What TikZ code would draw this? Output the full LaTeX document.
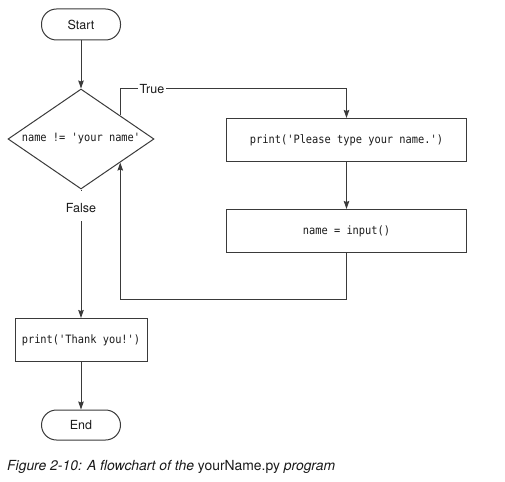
\documentclass[tikz,border=0pt]{standalone}
\usepackage{fontspec}
\setmainfont{TeX Gyre Heros}
\newfontfamily\codefont{DejaVu Sans Mono}[FakeStretch=0.9]
\usetikzlibrary{shapes.geometric,arrows.meta,calc}
\definecolor{ln}{HTML}{3A3A3A}
\definecolor{tx}{HTML}{1A1A1A}
\tikzset{
  term/.style={draw=ln, line width=1pt, rounded corners=15pt, minimum width=79pt, minimum height=31pt, inner sep=0pt, font=\fontsize{12.5}{14}\selectfont, text=tx},
  procbox/.style={draw=ln, line width=1pt, inner sep=0pt, font=\codefont\fontsize{11.5}{13}\selectfont, text=tx},
  decbox/.style={draw=ln, line width=1pt, diamond, minimum width=146pt, minimum height=100pt, inner sep=0pt},
  codetext/.style={font=\codefont\fontsize{11.5}{13}\selectfont, text=tx, inner sep=0pt},
  lbl/.style={fill=white, font=\fontsize{12.5}{14}\selectfont, text=tx},
  arr/.style={draw=ln, line width=1pt, -{Stealth[length=8pt,width=5.5pt,inset=1pt]}},
}
\begin{document}
\begin{tikzpicture}[x=1pt,y=-1pt]
\useasboundingbox (0,0) rectangle (505,481);
\node[term] (start) at (81,24.5) {Start};
\node[decbox] (dec) at (81,139) {};
\node[codetext] (dect) at (81,139) {name != 'your name'};
\node[procbox, minimum width=240pt, minimum height=43pt] (b1) at (346.5,140) {print('Please type your name.')};
\node[procbox, minimum width=240pt, minimum height=43pt] (b2) at (346.5,231) {name = input()};
\node[procbox, minimum width=132pt, minimum height=43pt] (b3) at (81,340) {print('Thank you!')};
\node[term, minimum height=30pt] (end) at (81,425) {End};

\coordinate (tp) at ($(dec.east)!0.466!(dec.north)$);
\coordinate (bp) at ($(dec.east)!0.466!(dec.south)$);
\coordinate (tc) at (tp |- 0,89);
\coordinate (lc) at ($(b2.south)+(0,46)$);

\draw[arr] (start) -- (dec.north);
\draw[arr] (tp) -- (tc) -| (b1.north);
\node[lbl, inner xsep=2pt, inner ysep=0pt] (truel) at (152,89) {True};
\draw[arr] (b1) -- (b2);
\draw[arr] (b2.south) -- (lc) -| (bp);
\draw[arr] (dec.south) -- (b3.north);
\node[lbl, inner sep=0pt, minimum height=30pt, minimum width=38pt, text depth=0pt] (falsel) at (81,206) {\raisebox{-3pt}{False}};
\draw[arr] (b3) -- (end);

\node[anchor=base west, inner sep=0pt, font=\fontsize{13.9}{16}\selectfont, text=tx] (cap) at (7,470) {\itshape Figure 2-10: A flowchart of the \upshape yourName.py \itshape program};
\end{tikzpicture}
\end{document}
